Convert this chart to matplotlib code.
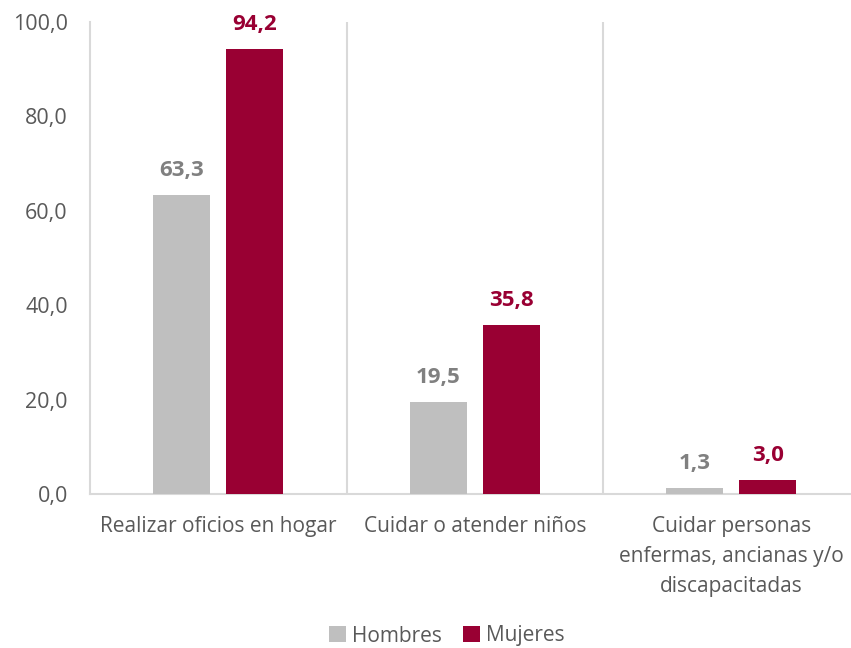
import numpy as np
import matplotlib.pyplot as plt
from matplotlib.ticker import FuncFormatter

categorias = ["Realizar oficios en hogar", "Cuidar o atender niños",
              "Cuidar personas\nenfermas, ancianas y/o\ndiscapacitadas"]
hombres = [63.3, 19.5, 1.3]
mujeres = [94.2, 35.8, 3.0]

gris = "#BFBFBF"
granate = "#990033"

plt.rcParams['font.family'] = ['Open Sans', 'DejaVu Sans']

fig = plt.figure(figsize=(8.51, 6.48), dpi=100)
ax = fig.add_axes([90/851, 154/648, 769.5/851, 472/648])

x = np.arange(len(categorias)) + 0.5
w = 0.222
off = 0.142
b1 = ax.bar(x - off, hombres, w, color=gris, label="Hombres", zorder=3)
b2 = ax.bar(x + off, mujeres, w, color=granate, label="Mujeres", zorder=3)

for bars, vals, col in [(b1, hombres, "#808080"), (b2, mujeres, granate)]:
    for r, v in zip(bars, vals):
        ax.annotate(f"{v:.1f}".replace(".", ","),
                    (r.get_x() + r.get_width() / 2, r.get_height()),
                    xytext=(0, 10), textcoords="offset points",
                    ha="center", va="bottom", fontsize=16, fontweight="bold", color=col)

ax.set_xlim(0, 3)
ax.set_ylim(0, 100)
ax.set_yticks(np.arange(0, 101, 20))
ax.yaxis.set_major_formatter(FuncFormatter(lambda v, p: f"{v:.1f}".replace(".", ",")))
ax.set_xticks(x)
ax.set_xticklabels(categorias, linespacing=1.55)
ax.set_xticks([1, 2], minor=True)
ax.grid(which="minor", axis="x", color="#D9D9D9", linewidth=1.5, zorder=0)
ax.tick_params(axis="both", which="both", length=0, labelsize=15.5, colors="#595959")
ax.tick_params(axis="x", labelsize=15, pad=16)
ax.tick_params(axis="y", pad=16)

for s in ["top", "right"]:
    ax.spines[s].set_visible(False)
ax.spines["left"].set_color("#D9D9D9")
ax.spines["left"].set_linewidth(1.5)
ax.spines["bottom"].set_color("#D9D9D9")
ax.spines["bottom"].set_linewidth(1.5)

fig.legend(loc="center", bbox_to_anchor=(447/851, 1 - 636/648), ncol=2, frameon=False,
           fontsize=15, handlelength=0.8, handleheight=0.8, handletextpad=0.3,
           columnspacing=1.0, labelcolor="#595959")

fig.savefig("out.png", dpi=100)
